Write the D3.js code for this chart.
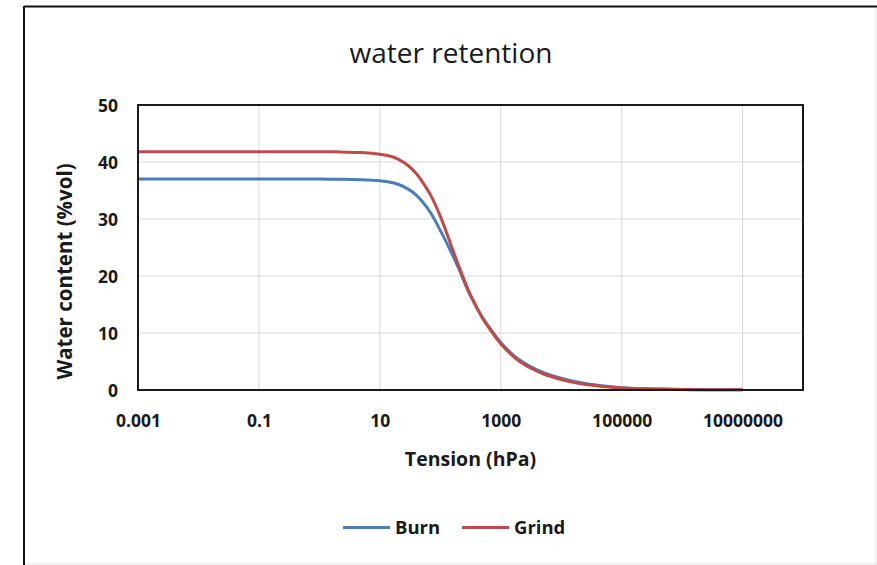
<!DOCTYPE html>
<html>
<head>
<meta charset="utf-8">
<script src="https://cdn.jsdelivr.net/npm/d3@7"></script>
<style>
  html, body { margin: 0; padding: 0; background: #ffffff; }
  svg { display: block; }
  text { font-family: "Open Sans", "DejaVu Sans", sans-serif; fill: #1a1a1a; }
</style>
</head>
<body>
<svg id="chart" width="877" height="565"></svg>
<script>
// Tension steps (hPa) and water content (%vol) for each treatment
const tension = [0.001, 0.01, 0.1, 1, 2, 5, 10, 15, 20, 30, 40, 50, 70, 100, 150, 200, 300, 400, 500, 700, 1000, 1500, 2000, 3000, 5000, 10000, 20000, 50000, 100000, 1000000, 10000000];
const burn  = [37.0, 37.0, 37.0, 37.0, 36.97, 36.88, 36.7, 36.45, 36.1, 35.2, 34.2, 33.1, 31.0, 28.0, 24.3, 21.4, 17.0, 14.5, 12.7, 10.5, 8.35, 6.45, 5.35, 4.2, 3.1, 2.05, 1.3, 0.7, 0.4, 0.1, 0.05];
const grind = [41.8, 41.8, 41.8, 41.8, 41.78, 41.65, 41.35, 41.0, 40.5, 39.3, 38.0, 36.6, 34.1, 30.5, 25.5, 21.9, 17.2, 14.5, 12.6, 10.3, 8.1, 6.2, 5.1, 3.95, 2.85, 1.85, 1.15, 0.6, 0.35, 0.1, 0.05];

const seriesNames = ["Burn", "Grind"];
const seriesColors = ["#4a7ebb", "#be4b48"];

const xTickValues = [0.001, 0.1, 10, 1000, 100000, 10000000];
const xTickLabels = ["0.001", "0.1", "10", "1000", "100000", "10000000"];
const yTickValues = [0, 10, 20, 30, 40, 50];

const svg = d3.select("#chart");

// Outer frame: dark top/left edges, faint right/bottom edges
svg.append("line").attr("x1", 24).attr("y1", 6.5).attr("x2", 877).attr("y2", 6.5)
  .attr("stroke", "#111").attr("stroke-width", 2);
svg.append("line").attr("x1", 24).attr("y1", 6).attr("x2", 24).attr("y2", 565)
  .attr("stroke", "#111").attr("stroke-width", 2);
svg.append("line").attr("x1", 876).attr("y1", 8).attr("x2", 876).attr("y2", 565)
  .attr("stroke", "#e4e4e4").attr("stroke-width", 1);
svg.append("line").attr("x1", 25).attr("y1", 564).attr("x2", 877).attr("y2", 564)
  .attr("stroke", "#e4e4e4").attr("stroke-width", 1);

const plot = { left: 138, right: 803, top: 105, bottom: 390 };

const x = d3.scaleLog().domain([0.001, 1e8]).range([plot.left, plot.right]);
const y = d3.scaleLinear().domain([0, 50]).range([plot.bottom, plot.top]);

// Gridlines
const grid = svg.append("g");
grid.selectAll("line.v").data(xTickValues.filter(v => v > 0.001)).join("line")
  .attr("x1", d => x(d)).attr("x2", d => x(d))
  .attr("y1", plot.top).attr("y2", plot.bottom)
  .attr("stroke", "#d9d9d9").attr("stroke-width", 1);
grid.selectAll("line.h").data(yTickValues.filter(v => v > 0 && v < 50)).join("line")
  .attr("x1", plot.left).attr("x2", plot.right)
  .attr("y1", d => y(d)).attr("y2", d => y(d))
  .attr("stroke", "#d9d9d9").attr("stroke-width", 1);

// Axes (labels only, no tick marks)
const xAxis = d3.axisBottom(x).tickValues(xTickValues)
  .tickFormat((d, i) => xTickLabels[i]).tickSize(0).tickPadding(0);
svg.append("g").attr("transform", `translate(0,${plot.bottom})`).call(xAxis)
  .call(g => g.select(".domain").remove())
  .selectAll("text")
  .attr("dy", null).attr("y", 37)
  .style("font-family", "'Open Sans', sans-serif")
  .style("font-size", "17.5px").style("font-weight", "bold").attr("fill", "#1a1a1a");

const yAxis = d3.axisLeft(y).tickValues(yTickValues).tickSize(0).tickPadding(20);
svg.append("g").attr("transform", `translate(${plot.left},0)`).call(yAxis)
  .call(g => g.select(".domain").remove())
  .selectAll("text")
  .attr("dy", "0.35em")
  .style("font-family", "'Open Sans', sans-serif")
  .style("font-size", "17.5px").style("font-weight", "bold").attr("fill", "#1a1a1a");

// Curves
const line = d3.line()
  .x(d => x(d[0]))
  .y(d => y(d[1]))
  .curve(d3.curveCatmullRom.alpha(0.5));

const seriesValues = [burn, grind];
seriesValues.forEach((vals, i) => {
  svg.append("path")
    .datum(tension.map((t, j) => [t, vals[j]]))
    .attr("d", line)
    .attr("fill", "none")
    .attr("stroke", seriesColors[i])
    .attr("stroke-width", 3)
    .attr("stroke-linejoin", "round");
});

// Plot border
svg.append("rect")
  .attr("x", plot.left).attr("y", plot.top)
  .attr("width", plot.right - plot.left).attr("height", plot.bottom - plot.top)
  .attr("fill", "none").attr("stroke", "#1a1a1a").attr("stroke-width", 2);

// Title
svg.append("text")
  .attr("x", 451).attr("y", 63)
  .attr("text-anchor", "middle")
  .style("font-size", "28px")
  .text("water retention");

// Axis titles
svg.append("text")
  .attr("x", (plot.left + plot.right) / 2).attr("y", 466)
  .attr("text-anchor", "middle")
  .style("font-size", "19.5px").style("font-weight", "bold")
  .text("Tension (hPa)");

svg.append("text")
  .attr("transform", `translate(72,${(plot.top + plot.bottom) / 2 + 24}) rotate(-90)`)
  .attr("text-anchor", "middle")
  .style("font-size", "20.5px").style("font-weight", "bold")
  .text("Water content (%vol)");

// Legend
const legendX = [343, 462];
const legend = svg.append("g");
seriesNames.forEach((name, i) => {
  legend.append("line")
    .attr("x1", legendX[i]).attr("x2", legendX[i] + 47)
    .attr("y1", 527.5).attr("y2", 527.5)
    .attr("stroke", seriesColors[i]).attr("stroke-width", 3);
  legend.append("text")
    .attr("x", legendX[i] + 52).attr("y", 534)
    .style("font-size", "18.5px").style("font-weight", "bold")
    .text(name);
});
</script>
</body>
</html>
